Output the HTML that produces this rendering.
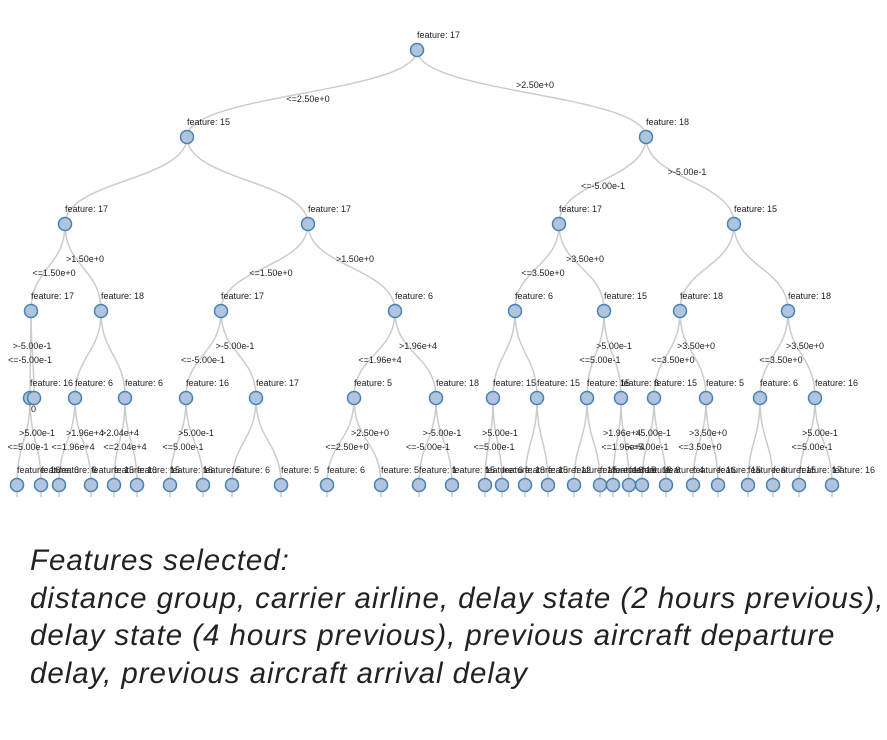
<!DOCTYPE html>
<html><head><meta charset="utf-8">
<style>
body{margin:0;background:#fff;width:887px;height:740px;overflow:hidden}
svg text{font-family:"Liberation Sans",sans-serif;font-size:9px;fill:#222}
.cap{position:absolute;left:30px;top:542px;font-family:"Liberation Sans",sans-serif;font-style:italic;font-size:29.5px;letter-spacing:0.95px;line-height:37.5px;color:#222;width:880px;white-space:nowrap}
</style></head><body>
<svg id="tree" width="887" height="520" style="position:absolute;left:0;top:0"></svg>
<div class="cap">Features selected:<br>distance group, carrier airline, delay state (2 hours previous),<br>delay state (4 hours previous), previous aircraft departure<br>delay, previous aircraft arrival delay</div>
<script>
const levelY=[50,137,224,311,398,485];
const nodeFeatures=[17,15,18,17,17,17,15,17,18,17,6,6,15,18,18,16,null,6,6,16,17,5,18,15,15,15,6,15,5,6,16,
16,6,6,15,16,15,16,5,6,5,6,5,1,15,6,18,15,12,15,16,15,16,6,4,16,15,6,15,17,16,15,16,5,15];
const nodeX=[417,187,646,65,308,559,734,31,101,221,395,515,604,680,788,30,34,75,125,186,256,354,436,493,537,587,621,654,706,760,815,
17,41,59,91,114,137,170,203,232,281,327,381,419,452,485,502,525,548,574,600,613,629,642,666,693,718,748,773,799,832];
const nodeLevel=[0,1,1,2,2,2,2,3,3,3,3,3,3,3,3,4,4,4,4,4,4,4,4,4,4,4,4,4,4,4,4,5,5,5,5,5,5,5,5,5,5,5,5,5,5,5,5,5,5,5,5,5,5,5,5,5,5,5,5,5,5];
const parentOf=[-1,0,0,1,1,2,2,3,3,4,4,5,5,6,6,7,7,8,8,9,9,10,10,11,11,12,12,13,13,14,14,15,15,17,17,18,18,19,19,20,20,21,21,22,22,23,23,24,24,25,25,26,26,27,27,28,28,29,29,30,30];
const edgeLabels=[
[0,"<=2.50e+0",308,">2.50e+0",535],
[2,"<=-5.00e-1",603,">-5.00e-1",687],
[3,"<=1.50e+0",54,">1.50e+0",85],
[4,"<=1.50e+0",271,">1.50e+0",355],
[5,"<=3.50e+0",543,">3.50e+0",585],
[7,"<=-5.00e-1",30,">-5.00e-1",32],
[9,"<=-5.00e-1",203,">-5.00e-1",235],
[10,"<=1.96e+4",380,">1.96e+4",418],
[12,"<=5.00e-1",600,">5.00e-1",614],
[13,"<=3.50e+0",673,">3.50e+0",696],
[14,"<=3.50e+0",781,">3.50e+0",805],
[15,"<=5.00e-1",28,">5.00e-1",37],
[17,"<=1.96e+4",73,">1.96e+4",85],
[18,"<=2.04e+4",125,">2.04e+4",120],
[19,"<=5.00e-1",183,">5.00e-1",196],
[21,"<=2.50e+0",347,">2.50e+0",370],
[22,"<=-5.00e-1",428,">-5.00e-1",442],
[23,"<=5.00e-1",494,">5.00e-1",500],
[26,"<=1.96e+4",623,">1.96e+4",622],
[27,"<=5.00e-1",648,">5.00e-1",653],
[28,"<=3.50e+0",700,">3.50e+0",708],
[30,"<=5.00e-1",812,">5.00e-1",820]];
const NS="http://www.w3.org/2000/svg";
const svg=document.getElementById('tree');
function mk(t,a){const e=document.createElementNS(NS,t);for(const k in a)e.setAttribute(k,a[k]);return e;}
const gL=mk('g',{}),gN=mk('g',{}),gT=mk('g',{});
svg.appendChild(gL);svg.appendChild(gN);svg.appendChild(gT);
for(let i=0;i<nodeX.length;i++){
  const x=nodeX[i],y=levelY[nodeLevel[i]],p=parentOf[i];
  if(p>=0){
    const px=nodeX[p],py=levelY[nodeLevel[p]],my=(py+y)/2;
    const l=mk('path',{d:`M${px},${py}C${px},${my} ${x},${my} ${x},${y}`,fill:'none',stroke:'#ccc','stroke-width':1.5});
    
    
    gL.appendChild(l);
  }
  if(nodeLevel[i]===5){
    const s=mk('line',{x1:x,y1:y,x2:x,y2:y+12,stroke:'#ccc','stroke-width':1.5});
    
    
    gL.appendChild(s);
  }
  const c=mk('circle',{cx:x,cy:y,r:6.5,fill:'#b0c4de',stroke:'#4682b4','stroke-width':1.5});
  
  
  gN.appendChild(c);
  if(i===16){
    const z=mk('text',{x:x-3,y:y+14});z.textContent='0';
    
    
    gT.appendChild(z);
    continue;
  }
  const t=mk('text',{x:x,y:y-12});
  t.textContent='feature: '+nodeFeatures[i];
  
  
  gT.appendChild(t);
}
edgeLabels.forEach(e=>{
  const py=levelY[nodeLevel[e[0]]];
  const a=mk('text',{x:e[2],y:py+52,'text-anchor':'middle'});a.textContent=e[1];
  
  
  gT.appendChild(a);
  const b=mk('text',{x:e[4],y:py+38,'text-anchor':'middle'});b.textContent=e[3];
  
  
  gT.appendChild(b);
});
</script>
</body></html>
